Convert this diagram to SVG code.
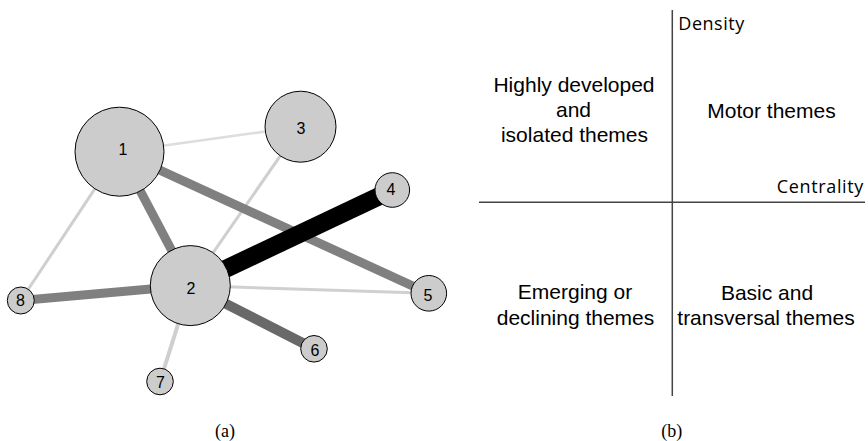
<svg xmlns="http://www.w3.org/2000/svg" width="868" height="441" viewBox="0 0 868 441">
<style>
.node{fill:#cccccc;stroke:#000;stroke-width:1}
.lbl{font-family:"Liberation Sans",Arial,sans-serif;font-size:16px;fill:#000;text-anchor:middle}
.q{font-family:"Liberation Sans",Arial,sans-serif;font-size:21px;fill:#000;text-anchor:middle}
.ax{font-family:"Open Sans","DejaVu Sans",sans-serif;font-size:18px;fill:#000}
.cap{font-family:"Liberation Serif","Times New Roman",serif;font-size:18px;fill:#000;text-anchor:middle}
.axis{stroke:#444;stroke-width:1.5;fill:none}
.e{fill:none;stroke-linecap:butt}
</style>
<rect width="868" height="441" fill="#fff"/>
<g id="connectors">
<line class="e" x1="119.5" y1="151.7" x2="300.5" y2="126.7" stroke="#dddddd" stroke-width="2.5"/>
<line class="e" x1="119.5" y1="151.7" x2="20.8" y2="300.5" stroke="#cfcfcf" stroke-width="3"/>
<line class="e" x1="300.5" y1="126.7" x2="190.3" y2="285.6" stroke="#cfcfcf" stroke-width="3"/>
<line class="e" x1="190.3" y1="285.6" x2="428.8" y2="293.3" stroke="#d0d0d0" stroke-width="3"/>
<line class="e" x1="190.3" y1="285.6" x2="160" y2="381.5" stroke="#cfcfcf" stroke-width="4"/>
<line class="e" x1="119.5" y1="151.7" x2="190.3" y2="285.6" stroke="#808080" stroke-width="9"/>
<line class="e" x1="119.5" y1="151.7" x2="428.8" y2="293.3" stroke="#808080" stroke-width="9"/>
<line class="e" x1="190.3" y1="285.6" x2="20.8" y2="300.5" stroke="#808080" stroke-width="9"/>
<line class="e" x1="190.3" y1="285.6" x2="314" y2="348.8" stroke="#696969" stroke-width="10"/>
<line class="e" x1="190.3" y1="285.6" x2="392.3" y2="190" stroke="#000000" stroke-width="18"/>
</g>
<g id="node1"><circle class="node" cx="119.5" cy="151.7" r="44.5"/><text class="lbl" x="123" y="155">1</text></g>
<g id="node2"><circle class="node" cx="190.3" cy="285.6" r="40"/><text class="lbl" x="191" y="294">2</text></g>
<g id="node3"><circle class="node" cx="300.5" cy="126.7" r="35.5"/><text class="lbl" x="301" y="134">3</text></g>
<g id="node4"><circle class="node" cx="392.3" cy="190" r="17.3"/><text class="lbl" x="391" y="195">4</text></g>
<g id="node5"><circle class="node" cx="428.8" cy="293.3" r="17.8"/><text class="lbl" x="428" y="301">5</text></g>
<g id="node6"><circle class="node" cx="314" cy="348.8" r="13.3"/><text class="lbl" x="315" y="356">6</text></g>
<g id="node7"><circle class="node" cx="160" cy="381.5" r="13.3"/><text class="lbl" x="160.5" y="388">7</text></g>
<g id="node8"><circle class="node" cx="20.8" cy="300.5" r="13.5"/><text class="lbl" x="20.5" y="306">8</text></g>
<g id="quadrant">
<line class="axis" x1="672.3" y1="10" x2="672.3" y2="396"/>
<line class="axis" x1="479" y1="202.3" x2="865" y2="202.3"/>
<text class="ax" x="678.3" y="30" textLength="66">Density</text>
<text class="ax" x="776.7" y="192.5" textLength="86.7">Centrality</text>
<text class="q" x="574" y="91.5">Highly developed</text>
<text class="q" x="573.5" y="116.5">and</text>
<text class="q" x="574.5" y="141.5">isolated themes</text>
<text class="q" x="771.5" y="117.5">Motor themes</text>
<text class="q" x="575" y="298.5">Emerging or</text>
<text class="q" x="575.5" y="325">declining themes</text>
<text class="q" x="767" y="299.5">Basic and</text>
<text class="q" x="766" y="325">transversal themes</text>
</g>
<text class="cap" x="225" y="437">(a)</text>
<text class="cap" x="671.7" y="437">(b)</text>
</svg>
